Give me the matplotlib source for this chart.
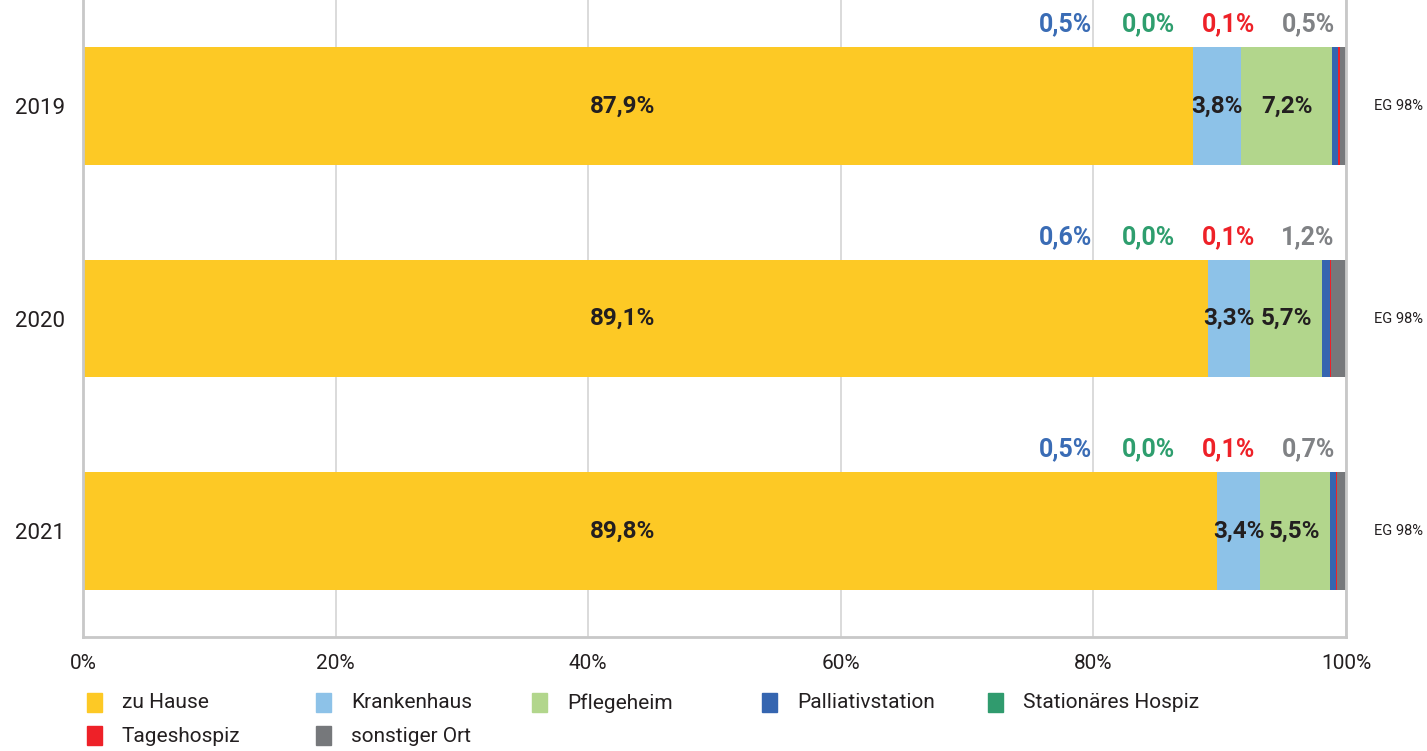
import matplotlib.pyplot as plt
from matplotlib.patches import Rectangle

years = ["2019", "2020", "2021"]
categories = ["zu Hause", "Krankenhaus", "Pflegeheim", "Palliativstation",
              "Stationäres Hospiz", "Tageshospiz", "sonstiger Ort"]
values = {
    "zu Hause": [87.9, 89.1, 89.8],
    "Krankenhaus": [3.8, 3.3, 3.4],
    "Pflegeheim": [7.2, 5.7, 5.5],
    "Palliativstation": [0.5, 0.6, 0.5],
    "Stationäres Hospiz": [0.0, 0.0, 0.0],
    "Tageshospiz": [0.1, 0.1, 0.1],
    "sonstiger Ort": [0.5, 1.2, 0.7],
}
side_note = ["EG 98%", "EG 98%", "EG 98%"]
x_ticks = [0, 20, 40, 60, 80, 100]

colors = {
    "zu Hause": "#FDC925",
    "Krankenhaus": "#8DC2E8",
    "Pflegeheim": "#B2D68C",
    "Palliativstation": "#3565B0",
    "Stationäres Hospiz": "#309B6E",
    "Tageshospiz": "#EE2128",
    "sonstiger Ort": "#76787B",
}
top_colors = {
    "Palliativstation": "#3A6CB5",
    "Stationäres Hospiz": "#2E9E6E",
    "Tageshospiz": "#EE2128",
    "sonstiger Ort": "#808285",
}


def pct(v):
    return f"{v:.1f}%".replace(".", ",")


plt.rcParams["font.family"] = ["Roboto", "DejaVu Sans"]
W, H = 1427, 751
fig = plt.figure(figsize=(W / 100, H / 100), dpi=100)
ax = fig.add_axes([83 / W, 1 - 637 / H, (1346 - 83) / W, 637 / H])

ypos = list(range(len(years)))
left = [0.0] * len(years)
for cat in categories:
    ax.barh(ypos, values[cat], left=left, height=0.555, color=colors[cat], zorder=2)
    for i, v in enumerate(values[cat]):
        if cat == "zu Hause":
            # main share label sits at the same spot in every bar
            ax.text(42.7, i, pct(v), ha="center", va="center",
                    fontsize=17.5, fontweight="bold", color="#231F20", zorder=3)
        elif cat in ("Krankenhaus", "Pflegeheim"):
            ax.text(left[i] + v / 2, i, pct(v), ha="center", va="center",
                    fontsize=17.5, fontweight="bold", color="#231F20", zorder=3)
    left = [l + v for l, v in zip(left, values[cat])]

# small-segment values shown above each bar
top_x = [77.8, 84.4, 90.7, 97.0]
for i in ypos:
    for cat, xx in zip(top_colors, top_x):
        ax.text(xx, i - 0.385, pct(values[cat][i]), ha="center", va="center",
                fontsize=18, fontweight="bold", color=top_colors[cat])
    ax.text(102.2, i, side_note[i], ha="left", va="center", fontsize=10.5, color="#231F20")

ax.set_xlim(0, 100)
ax.set_ylim(2.5, -0.5)
ax.set_xticks(x_ticks)
ax.set_xticklabels([f"{t}%" for t in x_ticks], fontsize=15, color="#231F20")
ax.set_yticks(ypos)
ax.set_yticklabels(years, fontsize=16, color="#231F20")
ax.tick_params(axis="x", length=0, pad=12)
ax.tick_params(axis="y", length=0, pad=13)
ax.xaxis.grid(True, color="#D4D4D4", linewidth=1.2, zorder=0)
ax.spines["top"].set_visible(False)
for s in ["left", "bottom", "right"]:
    ax.spines[s].set_color("#C8C8C8")
    ax.spines[s].set_linewidth(2)

# legend laid out on a fixed grid
legend_cols = [87, 316, 532, 762, 988]
legend_rows = [703, 736]
for k, cat in enumerate(categories):
    r, c = divmod(k, 5)
    px, py = legend_cols[c], legend_rows[r]
    fig.patches.append(Rectangle((px / W, 1 - (py + 9) / H), 15 / W, 19 / H,
                                 color=colors[cat], transform=fig.transFigure))
    fig.text((px + 35) / W, 1 - py / H, cat, ha="left", va="center",
             fontsize=15, color="#231F20")

fig.savefig("out.png", dpi=100)
